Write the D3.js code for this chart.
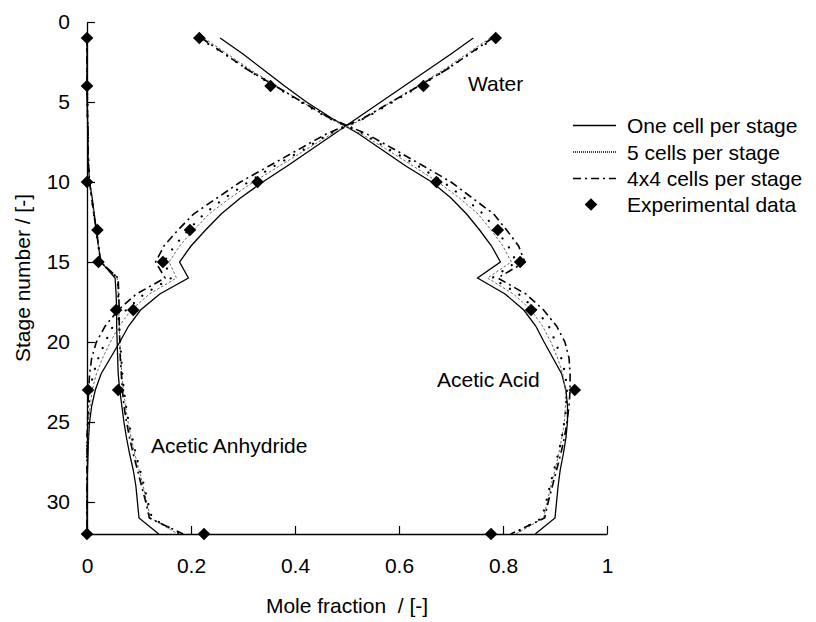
<!DOCTYPE html>
<html>
<head>
<meta charset="utf-8">
<script src="https://cdn.jsdelivr.net/npm/d3@7"></script>
<style>
  body { margin: 0; background: #fff; }
  svg { display: block; }
  text { font-family: "Liberation Sans", Arial, Helvetica, sans-serif; fill: #000; }
</style>
</head>
<body>
<svg id="chart" width="816" height="622"></svg>
<script>
// Column stages (1 = top of column, 32 = reboiler)
const stages = [1,2,3,4,5,6,7,8,9,10,11,12,13,14,15,16,17,18,19,20,21,22,23,24,25,26,27,28,29,30,31,32];

// Simulated liquid mole fractions: one cell per stage
const waterOneCell = [.743,.70,.655,.61,.565,.52,.475,.43,.385,.338,.295,.258,.228,.200,.178,.195,.140,.103,.080,.063,.045,.027,.016,.009,.005,.003,.002,.001,0,0,0,0];
const acidOneCell  = [.256,.30,.34,.38,.422,.47,.523,.568,.613,.663,.70,.73,.755,.778,.795,.751,.804,.840,.863,.879,.896,.913,.921,.924,.924,.921,.916,.910,.906,.903,.90,.862];
const anhydOneCell = [0,0,0,0,0,.001,.002,.002,.003,.005,.01,.014,.018,.022,.027,.054,.056,.057,.057,.058,.059,.06,.063,.067,.071,.076,.082,.089,.094,.097,.1,.138];

// 5 cells per stage
const waterFiveCells = [.775,.73,.685,.635,.585,.535,.47,.42,.37,.32,.275,.235,.205,.178,.158,.172,.12,.085,.062,.045,.03,.018,.01,.006,.003,.002,.001,0,0,0,0,0];
const acidFiveCells  = [.225,.27,.315,.365,.414,.464,.528,.578,.627,.675,.716,.752,.777,.80,.816,.77,.82,.854,.876,.892,.905,.915,.92,.92,.918,.913,.907,.90,.892,.885,.878,.825];
const anhydFiveCells = [0,0,0,0,.001,.001,.002,.002,.003,.005,.009,.013,.018,.022,.026,.058,.06,.061,.062,.063,.065,.067,.07,.074,.079,.085,.092,.1,.108,.115,.122,.175];

// Additional dotted profile
const waterDotted = [.785,.735,.69,.64,.588,.535,.465,.415,.36,.31,.265,.225,.195,.168,.148,.162,.11,.075,.05,.035,.022,.012,.006,.003,.002,0,0,0,0,0,0,0];
const acidDotted  = [.215,.265,.31,.36,.411,.464,.533,.583,.637,.685,.726,.762,.787,.81,.826,.779,.83,.864,.888,.901,.912,.92,.923,.922,.918,.913,.906,.898,.89,.883,.875,.82];
const anhydDotted = [0,0,0,0,.001,.001,.002,.002,.003,.005,.009,.013,.018,.022,.026,.059,.06,.061,.062,.064,.066,.068,.071,.075,.08,.087,.094,.102,.11,.117,.125,.18];

// 4x4 cells per stage
const waterFourByFour = [.78,.735,.69,.638,.585,.532,.46,.405,.35,.295,.25,.205,.175,.148,.132,.15,.095,.06,.035,.018,.009,.005,.003,.002,.001,0,0,0,0,0,0,0];
const acidFourByFour  = [.22,.265,.31,.362,.414,.467,.538,.593,.647,.70,.741,.782,.807,.83,.842,.79,.844,.878,.903,.919,.927,.929,.929,.927,.923,.918,.911,.903,.895,.887,.88,.815];
const anhydFourByFour = [0,0,0,0,.001,.001,.002,.002,.003,.005,.009,.013,.018,.022,.026,.06,.061,.062,.062,.063,.064,.066,.068,.071,.076,.082,.089,.097,.105,.113,.12,.185];

// Experimental data
const expStages = [1,4,10,13,15,18,23,32];
const expWater  = [.786,.647,.328,.198,.146,.089,.002,0];
const expAcid   = [.216,.353,.672,.790,.833,.854,.938,.777];
const expAnhyd  = [0,0,0,.020,.022,.056,.060,.225];

// Axis ticks
const xTickValues = [0,0.2,0.4,0.6,0.8,1];
const xTickLabels = ["0","0.2","0.4","0.6","0.8","1"];
const yTickValues = [0,5,10,15,20,25,30];
const yTickLabels = ["0","5","10","15","20","25","30"];

const legendLabels = ["One cell per stage","5 cells per stage","4x4 cells per stage","Experimental data"];

const svg = d3.select("#chart");
svg.append("rect").attr("width",816).attr("height",622).attr("fill","#fff");

const x = d3.scaleLinear().domain([0,1]).range([87,607]);
const y = d3.scaleLinear().domain([0,32]).range([22,534]);

// styles for the simulated profiles
const styles = {
  oneCell:    {stroke:"#000", width:1.3, dash:null},
  fiveCells:  {stroke:"#666", width:1.0, dash:"2.5,2"},
  dotted:     {stroke:"#000", width:2.2, dash:"0.1,11", cap:"round"},
  fourByFour: {stroke:"#000", width:1.6, dash:"8,4,2,4"}
};

const profiles = [
  {style:"oneCell",    comps:[waterOneCell, acidOneCell, anhydOneCell]},
  {style:"fiveCells",  comps:[waterFiveCells, acidFiveCells, anhydFiveCells]},
  {style:"dotted",     comps:[waterDotted, acidDotted, anhydDotted]},
  {style:"fourByFour", comps:[waterFourByFour, acidFourByFour, anhydFourByFour]}
];

const line = d3.line().x(d => x(d[1])).y(d => y(d[0]));

const plot = svg.append("g");
profiles.forEach(p => {
  const st = styles[p.style];
  p.comps.forEach(vals => {
    plot.append("path")
      .datum(stages.map((s,i) => [s, vals[i]]))
      .attr("d", line)
      .attr("fill","none")
      .attr("stroke", st.stroke)
      .attr("stroke-width", st.width)
      .attr("stroke-dasharray", st.dash)
      .attr("stroke-linecap", st.cap || "butt")
      .attr("stroke-linejoin","miter");
  });
});

// Axes with inward ticks
const fontSize = 21;
const xAxis = d3.axisBottom(x).tickValues(xTickValues)
  .tickFormat((d,i) => xTickLabels[i]).tickSizeInner(-8).tickSizeOuter(0).tickPadding(24);
const yAxis = d3.axisLeft(y).tickValues(yTickValues)
  .tickFormat((d,i) => yTickLabels[i]).tickSizeInner(-8).tickSizeOuter(0).tickPadding(17);

const gx = svg.append("g").attr("transform",`translate(0,${y(32)})`).call(xAxis);
const gy = svg.append("g").attr("transform",`translate(${x(0)},0)`).call(yAxis);
[gx, gy].forEach(g => {
  g.attr("font-family", null).attr("font-size", fontSize);
  g.selectAll("path.domain").attr("stroke","#000").attr("stroke-width",1.3);
  g.selectAll(".tick line").attr("stroke","#000").attr("stroke-width",1.2);
  g.selectAll("text").attr("fill","#000");
});

// Experimental points
const diamond = "M0,-6.3L6.3,0L0,6.3L-6.3,0Z";
const expPts = [];
[expWater, expAcid, expAnhyd].forEach(arr => {
  expStages.forEach((s,i) => expPts.push([s, arr[i]]));
});
svg.append("g").selectAll("path").data(expPts).join("path")
  .attr("d", diamond)
  .attr("transform", d => `translate(${x(d[1])},${y(d[0])})`)
  .attr("fill","#000");

// Axis titles
svg.append("text").attr("x", (x(0)+x(1))/2).attr("y", 613)
  .attr("text-anchor","middle").attr("font-size",fontSize)
  .style("white-space","pre").text("Mole fraction  / [-]");
svg.append("text").attr("transform",`translate(30,${(y(0)+y(32))/2}) rotate(-90)`)
  .attr("text-anchor","middle").attr("font-size",fontSize)
  .text("Stage number / [-]");

// Component labels
svg.append("text").attr("x",468).attr("y",90.5).attr("font-size",fontSize).text("Water");
svg.append("text").attr("x",437).attr("y",387).attr("font-size",fontSize).text("Acetic Acid");
svg.append("text").attr("x",151).attr("y",453).attr("font-size",fontSize).text("Acetic Anhydride");

// Legend
const legendRows = [125.5, 152, 178.5, 204.5];
const legendStyles = ["oneCell","fiveCells","fourByFour",null];
const lg = svg.append("g");
legendLabels.forEach((lab,i) => {
  const yy = legendRows[i];
  if (legendStyles[i]) {
    const st = styles[legendStyles[i]];
    lg.append("line").attr("x1",573).attr("x2",616).attr("y1",yy).attr("y2",yy)
      .attr("stroke", legendStyles[i] === "fiveCells" ? "#000" : st.stroke)
      .attr("stroke-width", legendStyles[i] === "fiveCells" ? 1.4 : st.width)
      .attr("stroke-dasharray", legendStyles[i] === "fiveCells" ? "1,1" : st.dash);
  } else {
    lg.append("path").attr("d", diamond).attr("transform",`translate(591,${yy})`).attr("fill","#000");
  }
  lg.append("text").attr("x",627).attr("y",yy+7.5).attr("font-size",fontSize).text(lab);
});
</script>
</body>
</html>
